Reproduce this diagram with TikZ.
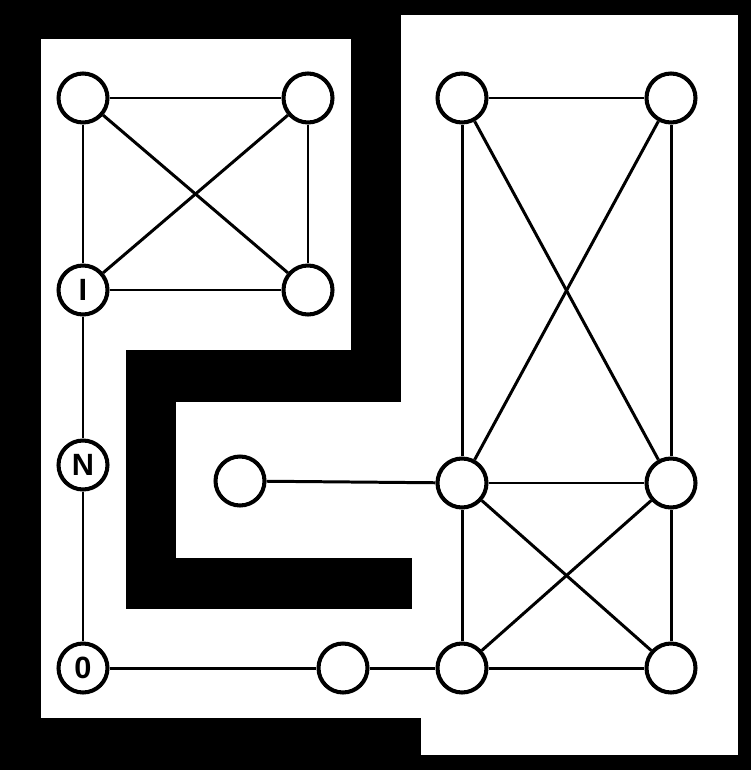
\documentclass[tikz,border=0pt]{standalone}
\usepackage{fontspec}
\setmainfont{Liberation Sans}
\def\nodeSize{0.98}
\def\edgeW{1.7pt}
\def\ringW{2.3pt}
\begin{document}
\begin{tikzpicture}[
    x=0.02cm, y=-0.02cm,
    wall/.style={fill=black},
    every node/.style={circle, draw, line width=\ringW, fill=white,
        inner sep=0pt, minimum size=\nodeSize cm,
        font=\fontsize{17.5}{19}\selectfont\bfseries}
]
\useasboundingbox (0,0) rectangle (751,770);
\fill[white] (0,0) rectangle (751,770);
% outer frame
\fill[wall] (0,0) rectangle (751,15);
\fill[wall] (738,0) rectangle (751,770);
\fill[wall] (0,755) rectangle (751,770);
\fill[wall] (0,0) rectangle (41,770);
% inner walls
\fill[wall] (0,0) rectangle (353,39);
\fill[wall] (351,0) rectangle (401,402);
\fill[wall] (126,350) rectangle (401,402);
\fill[wall] (126,350) rectangle (176,609);
\fill[wall] (126,558) rectangle (412,609);
\fill[wall] (0,718) rectangle (421,755);
% left room
\node (a1) at (83,98) {};
\node (a2) at (308,98) {};
\node (i) at (83,290) {I};
\node (a4) at (308,290) {};
\node (n) at (83,465) {N};
\node (o) at (83,668) {0};
\node (b) at (343,668) {};
\node (m) at (240,481) {};
% right room
\node (r1) at (462,98) {};
\node (r2) at (671,98) {};
\node (r3) at (462,483) {};
\node (r4) at (671,483) {};
\node (r5) at (462,668) {};
\node (r6) at (671,668) {};
\begin{scope}[line width=\edgeW]
\draw (a1) -- (a2);
\draw (a1) -- (i);
\draw (a1) -- (a4);
\draw (a2) -- (i);
\draw (a2) -- (a4);
\draw (i) -- (a4);
\draw (i) -- (n);
\draw (n) -- (o);
\draw (o) -- (b);
\draw (b) -- (r5);
\draw (m) -- (r3);
\draw (r1) -- (r2);
\draw (r1) -- (r3);
\draw (r1) -- (r4);
\draw (r2) -- (r3);
\draw (r2) -- (r4);
\draw (r3) -- (r4);
\draw (r3) -- (r5);
\draw (r4) -- (r6);
\draw (r5) -- (r6);
\draw (r3) -- (r6);
\draw (r4) -- (r5);
\end{scope}
\end{tikzpicture}
\end{document}
